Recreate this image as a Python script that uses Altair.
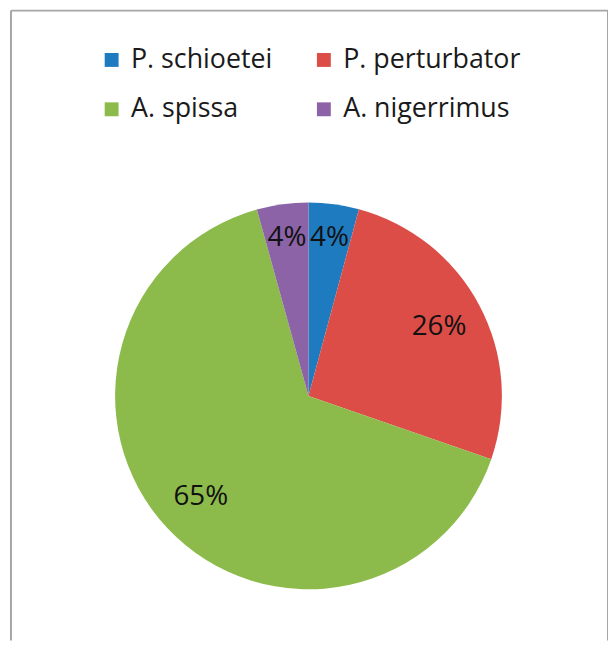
import altair as alt
import pandas as pd

species = ["P. schioetei", "P. perturbator", "A. spissa", "A. nigerrimus"]
shares = [4.2, 26.1, 65.4, 4.3]
labels = ["4%", "26%", "65%", "4%"]
colors = ["#1F7BC0", "#DC4D47", "#8DBB4B", "#8B63A6"]

df = pd.DataFrame({"species": species, "share": shares, "label": labels,
                   "rank": list(range(len(species)))})

W, H = 602, 635
CX, CY = 300, 388.5

base = alt.Chart(df).encode(
    theta=alt.Theta("share:Q", stack=True),
    order=alt.Order("rank:Q", sort="ascending"),
    x=alt.value(CX),
    y=alt.value(CY),
)

pie = base.mark_arc(outerRadius=195, strokeWidth=0).encode(
    color=alt.Color(
        "species:N",
        scale=alt.Scale(domain=species, range=colors),
        sort=species,
        legend=alt.Legend(
            title=None,
            orient="none",
            legendX=88,
            legendY=36,
            direction="horizontal",
            columns=2,
            symbolType="square",
            symbolSize=196,
            symbolStrokeWidth=0,
            labelFont="Open Sans",
            labelFontSize=27,
            labelColor="#1a1a1a",
            labelOffset=6,
            columnPadding=38,
            rowPadding=22,
            padding=0,
            labelLimit=400,
        ),
    )
)

text_small = base.mark_text(radius=161, font="Open Sans", fontSize=28, color="#111111").encode(
    text=alt.condition("datum.share < 10", "label:N", alt.value(""))
)
text_big = base.mark_text(radius=149, font="Open Sans", fontSize=28, color="#111111").encode(
    text=alt.condition("datum.share >= 10", "label:N", alt.value(""))
)

frame_df = pd.DataFrame({"k": [0]})
frame = alt.Chart(frame_df)
left = frame.mark_rule(color="#A6A6A6", strokeWidth=2).encode(
    x=alt.value(0), y=alt.value(0), y2=alt.value(H))
top = frame.mark_rule(color="#A6A6A6", strokeWidth=2).encode(
    x=alt.value(0), x2=alt.value(W), y=alt.value(0))
right = frame.mark_rule(color="#A6A6A6", strokeWidth=2).encode(
    x=alt.value(W), y=alt.value(0), y2=alt.value(H))

chart = alt.layer(pie, text_small, text_big, left, top, right).properties(
    width=W, height=H,
    padding={"left": 3, "top": 0, "right": 0, "bottom": 0},
    autosize=alt.AutoSizeParams(type="none"),
).configure_view(stroke=None)

chart.save("out.html", embed_options={"renderer": "svg", "actions": False})
